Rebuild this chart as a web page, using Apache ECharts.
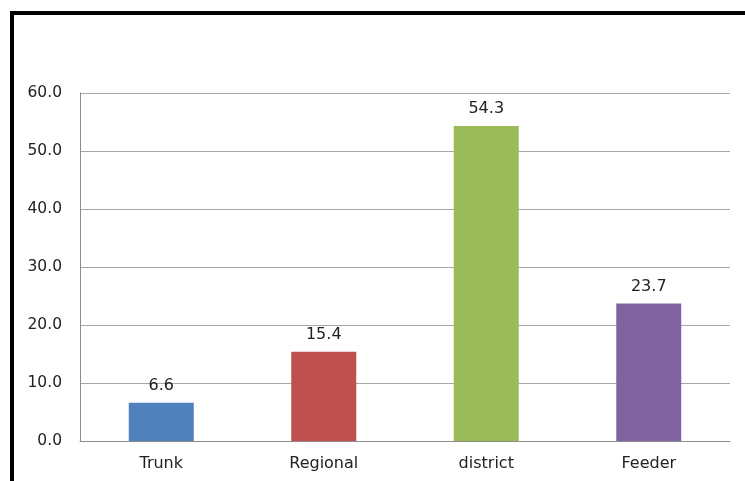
<!DOCTYPE html>
<html>
<head>
<meta charset="utf-8">
<script src="https://cdn.jsdelivr.net/npm/echarts@6/dist/echarts.min.js"></script>
<style>
html, body { margin: 0; padding: 0; background: #fff; }
#frame { position: absolute; left: 10px; top: 11px; width: 735px; height: 470px;
  border-top: 4px solid #000; border-left: 4px solid #000; box-sizing: border-box; }
#chart { position: absolute; left: 0; top: 0; width: 745px; height: 481px; }
</style>
</head>
<body>
<div id="frame"></div>
<div id="chart"></div>
<script>
// categories and values
var categories = ["Trunk", "Regional", "district", "Feeder"];
var values = [6.6, 15.4, 54.3, 23.7];
var barColors = ["#4F81BD", "#C0504D", "#9BBB59", "#8064A2"];

var chart = echarts.init(document.getElementById("chart"));

var option = {
	animation: false,
	grid: { left: 80, right: 15, top: 93, bottom: 40 },
	xAxis: {
		type: "category",
		data: categories,
		axisTick: { show: false },
		axisLine: { lineStyle: { color: "#8c8c8c", width: 1 } },
		axisLabel: { color: "#222", fontFamily: "DejaVu Sans", fontSize: 16, margin: 15 }
	},
	yAxis: {
		type: "value",
		min: 0,
		max: 60,
		interval: 10,
		axisLine: { show: true, lineStyle: { color: "#8c8c8c", width: 1 } },
		axisTick: { show: false },
		splitLine: { lineStyle: { color: "#a6a6a6", width: 1 } },
		axisLabel: {
			color: "#222", fontFamily: "DejaVu Sans", fontSize: 15.5, margin: 18,
			formatter: function (v) { return v.toFixed(1); }
		}
	},
	series: [{
		type: "bar",
		barWidth: "40%",
		data: values.map(function (v, i) {
			return { value: v, itemStyle: { color: barColors[i] } };
		}),
		label: {
			show: true,
			position: "top",
			distance: 9,
			color: "#222",
			fontFamily: "DejaVu Sans",
			fontSize: 16,
			formatter: function (p) { return p.value.toFixed(1); }
		}
	}]
};

chart.setOption(option);
</script>
</body>
</html>
